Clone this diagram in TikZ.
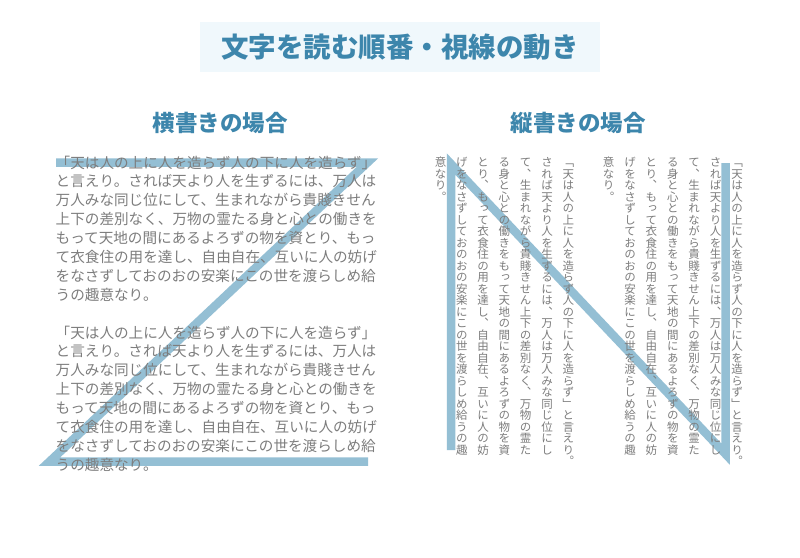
\documentclass[tikz,border=0pt]{standalone}
\usepackage{fontspec}
\newfontfamily\jpfont{Noto Sans CJK JP}
\newfontfamily\tatefont[RawFeature=+vert]{Noto Sans CJK JP}

\definecolor{titlebg}{RGB}{240,248,252}
\definecolor{headblue}{RGB}{61,134,172}
\definecolor{bodygray}{RGB}{125,125,125}
\definecolor{gazeblue}{RGB}{148,191,212}

% characters stacked top to bottom, one per line
\newcommand\tate[1]{\vbox{\baselineskip=11.5pt\lineskiplimit=-100pt\lineskip=0pt%
  \edef\tatetmp{#1}\expandafter\tateloop\tatetmp\relax}}
\def\tateloop#1{\ifx\relax#1\else\hbox to 11.5pt{\hss\rule{0pt}{10.1pt}#1\hss}\expandafter\tateloop\fi}

\begin{document}
\begin{tikzpicture}[
  x=1pt, y=-1pt,
  titlebox/.style={
    fill=titlebg,
    minimum width=400pt,
    minimum height=50pt,
    font=\jpfont\bfseries\fontsize{27.5}{27.5}\selectfont,
    text=headblue
  },
  heading/.style={
    font=\jpfont\bfseries\fontsize{22.5}{22.5}\selectfont,
    text=headblue
  },
  yoko/.style={
    font=\jpfont\fontsize{14.6}{18.9}\selectfont,
    text=bodygray,
    inner sep=0pt,
    anchor=base west
  },
  tatecol/.style={
    font=\tatefont\fontsize{11.5}{11.5}\selectfont,
    text=bodygray,
    inner sep=0pt,
    anchor=north
  },
  gaze/.style={draw=gazeblue, line width=8.5pt, miter limit=10}
]
\useasboundingbox (0,0) rectangle (800,557);
\fill[white] (0,0) rectangle (800,557);

% Title
\node[titlebox] (title) at (400,47) {文字を読む順番・視線の動き};

% Headings
\node[heading] (yokohead) at (220,123) {横書きの場合};
\node[heading] (tatehead) at (578,123) {縦書きの場合};

% Gaze paths
\coordinate (z1) at (56,162.5);
\coordinate (z2) at (367.5,162.5);
\coordinate (z3) at (49.6,461.5);
\coordinate (z4) at (368,461.5);
\draw[gaze] (z1) -- (z2) -- (z3) -- (z4);

\coordinate (n1) at (725.5,163);
\coordinate (n2) at (725.5,454);
\coordinate (n3) at (451,164);
\coordinate (n4) at (451,450);
\draw[gaze] (n1) -- (n2) -- (n3) -- (n4);

% Horizontal text
\foreach \ln [count=\i] in {「天は人の上に人を造らず人の下に人を造らず」,
  と言えり。されば天より人を生ずるには、万人は,
  万人みな同じ位にして、生まれながら貴賤きせん,
  上下の差別なく、万物の霊たる身と心との働きを,
  もって天地の間にあるよろずの物を資とり、もっ,
  て衣食住の用を達し、自由自在、互いに人の妨げ,
  をなさずしておのおの安楽にこの世を渡らしめ給,
  うの趣意なり。}{
  \node[yoko] (ya\i) at (55.5,{168+18.9*(\i-1)}) {\ln};
  \node[yoko] (yb\i) at (55.5,{338+18.9*(\i-1)}) {\ln};
}

% Vertical text
\foreach \col [count=\i] in {﹁天は人の上に人を造らず人の下に人を造らず﹂と言えり︒,
  されば天より人を生ずるには︑万人は万人みな同じ位にし,
  て︑生まれながら貴賤きせん上下の差別なく︑万物の霊た,
  る身と心との働きをもって天地の間にあるよろずの物を資,
  とり︑もって衣食住の用を達し︑自由自在︑互いに人の妨,
  げをなさずしておのおの安楽にこの世を渡らしめ給うの趣,
  意なり︒}{
  \node[tatecol] (ta\i) at ({737-21.4*(\i-1)},156.5) {\tate{\col}};
  \node[tatecol] (tb\i) at ({568.3-21.3*(\i-1)},156.5) {\tate{\col}};
}

\end{tikzpicture}
\end{document}
